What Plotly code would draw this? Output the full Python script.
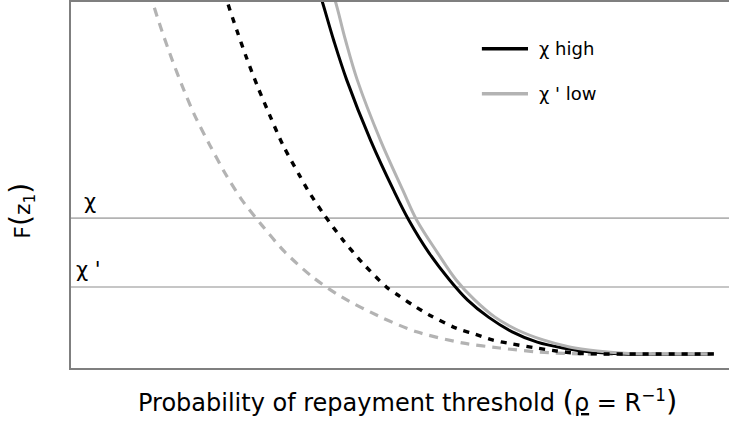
import plotly.graph_objects as go

# Threshold curves F(z1) against the probability-of-repayment threshold (unit scale)
solid_high_x = [0.376, 0.382, 0.400, 0.420, 0.456, 0.491, 0.514, 0.545, 0.576, 0.603, 0.635, 0.671, 0.709, 0.748, 0.791, 0.841, 0.977]
solid_high_y = [1.035, 1.003, 0.894, 0.785, 0.622, 0.486, 0.405, 0.315, 0.242, 0.188, 0.141, 0.101, 0.073, 0.057, 0.046, 0.041, 0.041]

solid_low_x = [0.395, 0.402, 0.418, 0.436, 0.471, 0.505, 0.526, 0.558, 0.586, 0.614, 0.645, 0.679, 0.718, 0.758, 0.800, 0.841, 0.879, 0.977]
solid_low_y = [1.035, 1.003, 0.894, 0.785, 0.622, 0.486, 0.405, 0.315, 0.242, 0.188, 0.141, 0.106, 0.079, 0.060, 0.049, 0.043, 0.041, 0.041]

dash_high_x = [0.236, 0.239, 0.253, 0.268, 0.285, 0.303, 0.323, 0.348, 0.361, 0.386, 0.414, 0.444, 0.480, 0.500, 0.520, 0.545, 0.586, 0.614, 0.641, 0.671, 0.708, 0.738, 0.768, 0.803, 0.977]
dash_high_y = [1.024, 0.997, 0.921, 0.845, 0.766, 0.690, 0.609, 0.527, 0.486, 0.418, 0.351, 0.288, 0.223, 0.198, 0.174, 0.147, 0.111, 0.095, 0.079, 0.068, 0.057, 0.049, 0.043, 0.041, 0.041]

dash_low_x = [0.123, 0.126, 0.139, 0.155, 0.171, 0.189, 0.212, 0.236, 0.261, 0.291, 0.326, 0.368, 0.412, 0.474, 0.526, 0.595, 0.652, 0.712, 0.773, 0.977]
dash_low_y = [1.024, 0.995, 0.921, 0.840, 0.766, 0.690, 0.609, 0.530, 0.459, 0.391, 0.318, 0.250, 0.196, 0.139, 0.101, 0.071, 0.057, 0.046, 0.041, 0.041]

# Horizontal reference levels
chi_high = 0.410
chi_low = 0.223

BLACK = "#000000"
GREY = "#b3b3b3"
FONT = "DejaVu Sans, Liberation Sans, sans-serif"

fig = go.Figure()

fig.add_trace(go.Scatter(x=dash_low_x, y=dash_low_y, mode="lines",
                         line=dict(color=GREY, width=3.2, dash="9px,7px", shape="spline", smoothing=0.8),
                         showlegend=False, hoverinfo="skip"))
fig.add_trace(go.Scatter(x=solid_high_x, y=solid_high_y, mode="lines",
                         line=dict(color=BLACK, width=3, shape="spline", smoothing=1.0),
                         name="χ high", showlegend=False))
fig.add_trace(go.Scatter(x=solid_low_x, y=solid_low_y, mode="lines",
                         line=dict(color=GREY, width=3, shape="spline", smoothing=1.0),
                         name="χ ' low", showlegend=False))
fig.add_trace(go.Scatter(x=dash_high_x, y=dash_high_y, mode="lines",
                         line=dict(color=BLACK, width=3.4, dash="6px,7px", shape="spline", smoothing=0.8),
                         showlegend=False, hoverinfo="skip"))

shapes = []
for level in (chi_high, chi_low):
    shapes.append(dict(type="line", xref="paper", yref="y", x0=0, x1=1, y0=level, y1=level,
                       line=dict(color=GREY, width=1.6), layer="below"))
# frame (open on the right edge)
shapes.append(dict(type="rect", xref="paper", yref="paper", x0=0, x1=1.03, y0=0, y1=1,
                   line=dict(color="#7f7f7f", width=2)))
# legend keys
shapes.append(dict(type="line", xref="paper", yref="paper", x0=0.625, x1=0.695, y0=0.87, y1=0.87,
                   line=dict(color=BLACK, width=3.5)))
shapes.append(dict(type="line", xref="paper", yref="paper", x0=0.625, x1=0.695, y0=0.748, y1=0.748,
                   line=dict(color=GREY, width=3.5)))

annotations = [
    dict(text="χ high", xref="paper", yref="paper", x=0.708, y=0.872, xanchor="left", yanchor="middle",
         showarrow=False, font=dict(size=18, color=BLACK, family=FONT)),
    dict(text="χ ' low", xref="paper", yref="paper", x=0.708, y=0.750, xanchor="left", yanchor="middle",
         showarrow=False, font=dict(size=18, color=BLACK, family=FONT)),
    dict(text="χ", xref="paper", yref="y", x=0.031, y=chi_high + 0.045, xanchor="center", yanchor="middle",
         showarrow=False, font=dict(size=21, color=BLACK, family=FONT)),
    dict(text="χ '", xref="paper", yref="y", x=0.028, y=chi_low + 0.045, xanchor="center", yanchor="middle",
         showarrow=False, font=dict(size=21, color=BLACK, family=FONT)),
    dict(text="Probability of repayment threshold <span style='font-size:29px'>(</span><u>ρ</u> = R<sup>−1</sup><span style='font-size:29px'>)</span>",
         xref="paper", yref="paper", x=0.512, y=-0.088, xanchor="center", yanchor="middle",
         showarrow=False, font=dict(size=24, color=BLACK, family=FONT)),
    dict(text="F<span style='font-size:28px'>(</span>z<sub>1</sub><span style='font-size:28px'>)</span>",
         xref="paper", yref="paper", x=-0.073, y=0.43, xanchor="center", yanchor="middle",
         textangle=-90, showarrow=False, font=dict(size=22, color=BLACK, family=FONT)),
]

fig.update_layout(
    width=729, height=425,
    margin=dict(l=70, r=0, t=1, b=56),
    paper_bgcolor="white", plot_bgcolor="white",
    shapes=shapes, annotations=annotations,
    xaxis=dict(range=[0, 1], showgrid=False, zeroline=False, showticklabels=False, ticks="", showline=False),
    yaxis=dict(range=[0, 1], showgrid=False, zeroline=False, showticklabels=False, ticks="", showline=False),
)

fig.write_html("out.html")
